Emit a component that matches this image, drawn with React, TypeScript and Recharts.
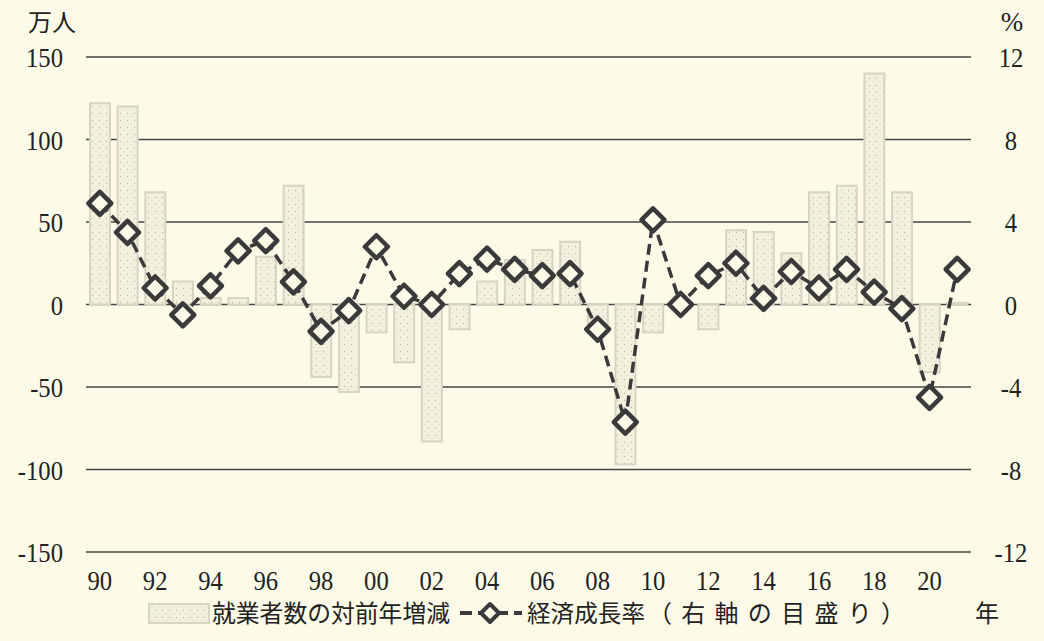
import React from 'react';
import { ComposedChart, Bar, Line, XAxis, YAxis, CartesianGrid } from 'recharts';

const years = [
  '1990', '1991', '1992', '1993', '1994', '1995', '1996', '1997', '1998', '1999',
  '2000', '2001', '2002', '2003', '2004', '2005', '2006', '2007', '2008', '2009',
  '2010', '2011', '2012', '2013', '2014', '2015', '2016', '2017', '2018', '2019',
  '2020', '2021',
];

// 就業者数の対前年増減（万人）
const employmentChange = [
  122, 120, 68, 14, 4, 4, 29, 72, -44, -53,
  -17, -35, -83, -15, 14, 27, 33, 38, -13, -97,
  -17, -2, -15, 45, 44, 31, 68, 72, 140, 68,
  -41, 1,
];

// 経済成長率（%）
const growthRate = [
  4.9, 3.5, 0.8, -0.5, 0.9, 2.6, 3.1, 1.1, -1.3, -0.3,
  2.8, 0.4, 0.0, 1.5, 2.2, 1.7, 1.4, 1.5, -1.2, -5.7,
  4.1, 0.0, 1.4, 2.0, 0.3, 1.6, 0.8, 1.7, 0.6, -0.2,
  -4.5, 1.7,
];

const leftTicks = [-150, -100, -50, 0, 50, 100, 150];
const rightTicks = [-12, -8, -4, 0, 4, 8, 12];

const barLabel = '就業者数の対前年増減';
const lineLabelMain = '経済成長率';
const lineLabelNote = '（右軸の目盛り）';
const leftUnit = '万人';
const rightUnit = '%';
const xUnit = '年';

const data = years.map((y, i) => ({
  year: y,
  emp: employmentChange[i],
  gdp: growthRate[i],
}));

const BG = '#fdfbe7';
const DARK = '#3a3a3a';
const SERIF = '"Liberation Serif", "DejaVu Serif", serif';
const CJK = '"Noto Sans CJK JP", "Noto Sans CJK SC", sans-serif';

const LeftTick = (props: any) => {
  const { x, y, payload } = props;
  return (
    <g transform={`translate(${x - 23},${y + 10})`}>
      <text x={0} y={0} textAnchor="end" fontFamily={SERIF} fontSize={28} fill="#222" transform="scale(0.88,1)">
        {payload.value}
      </text>
    </g>
  );
};

const RightTick = (props: any) => {
  const { x, y, payload } = props;
  return (
    <g transform={`translate(${x + 40},${y + 10})`}>
      <text x={0} y={0} textAnchor="middle" fontFamily={SERIF} fontSize={28} fill="#222" transform="scale(0.88,1)">
        {payload.value}
      </text>
    </g>
  );
};

const BottomTick = (props: any) => {
  const { x, y, payload } = props;
  return (
    <g transform={`translate(${x},${y + 38})`}>
      <text x={0} y={0} textAnchor="middle" fontFamily={SERIF} fontSize={28} fill="#222" transform="scale(0.88,1)">
        {String(payload.value).slice(2)}
      </text>
    </g>
  );
};

const Diamond = (props: any) => {
  const { cx, cy, index } = props;
  if (cx == null || cy == null) return <g key={`d-${index}`} />;
  const r = 11.5;
  return (
    <path
      key={`d-${index}`}
      d={`M${cx},${cy - r} L${cx + r},${cy} L${cx},${cy + r} L${cx - r},${cy} Z`}
      fill={BG}
      stroke={DARK}
      strokeWidth={4.5}
      strokeLinejoin="round"
    />
  );
};

const PatternDefs = ({ id }: { id: string }) => (
  <defs>
    <pattern id={id} x={0} y={0} width={7} height={7} patternUnits="userSpaceOnUse">
      <rect x={0} y={0} width={7} height={7} fill="#f3f0dd" />
      <circle cx={1.5} cy={1.5} r={0.7} fill="#bdb9a8" />
      <circle cx={5} cy={4.5} r={0.6} fill="#cfcbba" />
    </pattern>
  </defs>
);

export default function App() {
  return (
    <div style={{ position: 'absolute', left: 0, top: 0, width: 1044, height: 641, background: BG, overflow: 'hidden' }}>
      <ComposedChart
        width={1044}
        height={641}
        data={data}
        margin={{ top: 57, right: 0, bottom: 49, left: 0 }}
        barGap={0}
      >
        <PatternDefs id="barDots" />
        <CartesianGrid yAxisId="left" horizontal vertical={false} stroke="#444" strokeWidth={1.5} />
        <XAxis
          dataKey="year"
          height={40}
          axisLine={false}
          tickLine={false}
          tickSize={0}
          tickMargin={0}
          interval={1}
          tick={<BottomTick />}
        />
        <YAxis
          yAxisId="left"
          orientation="left"
          width={86}
          domain={[-150, 150]}
          ticks={leftTicks}
          axisLine={false}
          tickLine={false}
          tickSize={0}
          tickMargin={0}
          tick={<LeftTick />}
          interval={0}
        />
        <YAxis
          yAxisId="right"
          orientation="right"
          width={73}
          domain={[-12, 12]}
          ticks={rightTicks}
          axisLine={false}
          tickLine={false}
          tickSize={0}
          tickMargin={0}
          tick={<RightTick />}
          interval={0}
        />
        <Bar
          yAxisId="left"
          dataKey="emp"
          barSize={20}
          fill="url(#barDots)"
          stroke="#d8d4c3"
          strokeWidth={2}
          isAnimationActive={false}
        />
        <Line
          yAxisId="right"
          dataKey="gdp"
          stroke={DARK}
          strokeWidth={3.5}
          strokeDasharray="11 6"
          dot={Diamond}
          activeDot={false}
          isAnimationActive={false}
        />
      </ComposedChart>
      <svg
        width={1044}
        height={641}
        style={{ position: 'absolute', left: 0, top: 0, pointerEvents: 'none' }}
      >
        <PatternDefs id="legendDots" />
        <text x={28} y={31} fontFamily={CJK} fontSize={24} fill="#222">{leftUnit}</text>
        <text x={1012} y={31} textAnchor="middle" fontFamily={SERIF} fontSize={27} fill="#222">{rightUnit}</text>
        <text x={975} y={622} fontFamily={CJK} fontSize={24} fill="#222">{xUnit}</text>
        <rect x={149} y={604} width={60} height={19} fill="url(#legendDots)" stroke="#d8d4c3" strokeWidth={2} />
        <text x={212} y={622} fontFamily={CJK} fontSize={24} fill="#222" textLength={238} lengthAdjust="spacingAndGlyphs">
          {barLabel}
        </text>
        <line x1={460} y1={613} x2={522} y2={613} stroke={DARK} strokeWidth={4} strokeDasharray="12 6" />
        <path d="M490,604 L499,613 L490,622 L481,613 Z" fill={BG} stroke={DARK} strokeWidth={4} strokeLinejoin="round" />
        <text x={527} y={622} fontFamily={CJK} fontSize={24} fill="#222" textLength={118} lengthAdjust="spacingAndGlyphs">
          {lineLabelMain}
        </text>
        <text x={648} y={622} fontFamily={CJK} fontSize={24} fill="#222" textLength={257} lengthAdjust="spacing">
          {lineLabelNote}
        </text>
      </svg>
    </div>
  );
}
